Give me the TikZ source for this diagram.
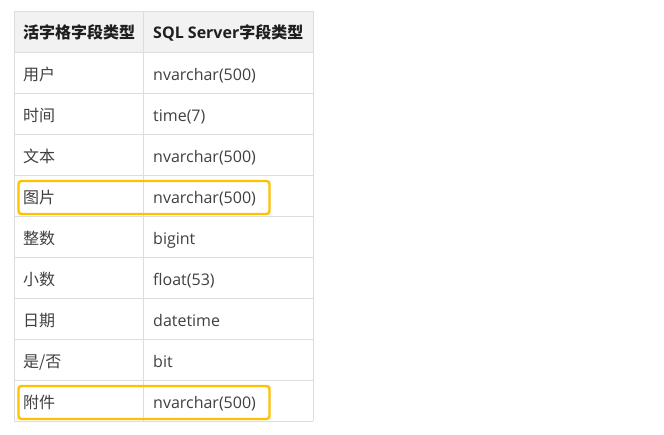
\documentclass[tikz,border=0pt]{standalone}
\usepackage{fontspec}
\setmainfont{Open Sans}
\newfontfamily\cjk{Noto Sans CJK SC}
\definecolor{gridc}{HTML}{DDDDDD}
\definecolor{headc}{HTML}{F2F2F2}
\definecolor{txtc}{HTML}{404040}
\definecolor{hdtxt}{HTML}{1F1F1F}
\definecolor{hilite}{HTML}{FFC000}
\begin{document}
\begin{tikzpicture}[x=1pt,y=-1pt,
  cell/.style={anchor=base west,inner sep=0pt,text=txtc,font=\fontsize{16}{16}\selectfont},
  head/.style={cell,text=hdtxt,font=\fontsize{16}{16}\selectfont\bfseries},
  grid/.style={draw=gridc,line width=1pt},
  mark box/.style={draw=hilite,line width=2.4pt,rounded corners=3pt}]
\useasboundingbox (0,0) rectangle (664,434);
\fill[white] (0,0) rectangle (664,434);
\fill[headc] (14,11) rectangle (313,52);
% grid
\foreach \yy in {11,52,93,134,175,216,257,298,339,380,421}
  \draw[grid] (14,\yy) -- (313,\yy);
\draw[grid] (14,11) -- (14,421);
\draw[grid] (143.5,11) -- (143.5,421);
\draw[grid] (313,11) -- (313,421);
% header
\node[head] (h1) at (23,38) {\cjk\bfseries 活字格字段类型};
\node[head] (h2) at (153,38) {SQL Server{\cjk\bfseries 字段类型}};
% rows
\node[cell] (a1) at (23,80) {\cjk 用户};      \node[cell] (b1) at (153,80) {nvarchar(500)};
\node[cell] (a2) at (23,121) {\cjk 时间};     \node[cell] (b2) at (153,121) {time(7)};
\node[cell] (a3) at (23,162) {\cjk 文本};     \node[cell] (b3) at (153,162) {nvarchar(500)};
\node[cell] (a4) at (23,203) {\cjk 图片};     \node[cell] (b4) at (153,203) {nvarchar(500)};
\node[cell] (a5) at (23,244) {\cjk 整数};     \node[cell] (b5) at (153,244) {bigint};
\node[cell] (a6) at (23,285) {\cjk 小数};     \node[cell] (b6) at (153,285) {float(53)};
\node[cell] (a7) at (23,326) {\cjk 日期};     \node[cell] (b7) at (153,326) {datetime};
\node[cell] (a8) at (23,367) {\cjk 是/否};    \node[cell] (b8) at (153,367) {bit};
\node[cell] (a9) at (23,408) {\cjk 附件};     \node[cell] (b9) at (153,408) {nvarchar(500)};
% highlight boxes
\draw[mark box] (18.5,181) rectangle (269.5,214);
\draw[mark box] (18.5,386) rectangle (269.5,419);
\end{tikzpicture}
\end{document}
